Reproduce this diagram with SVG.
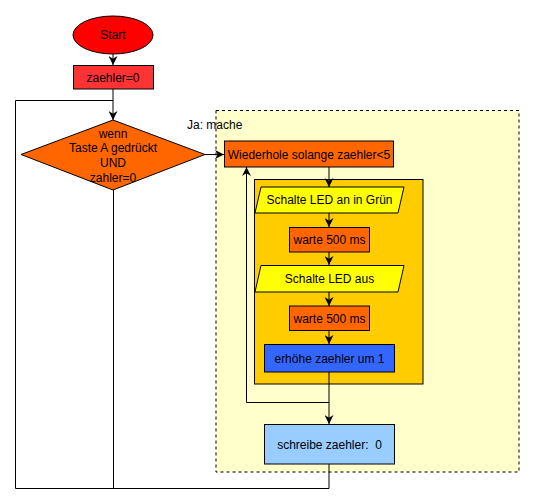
<svg xmlns="http://www.w3.org/2000/svg" width="535" height="504" viewBox="0 0 535 504">
<style>
  .s { stroke: #000; stroke-width: 1; }
  .t { font-family: "Liberation Sans", Arial, sans-serif; font-size: 12px; fill: #000; text-anchor: middle; }
  .c { fill: none; stroke: #000; stroke-width: 1; }
</style>
<defs>
  <marker id="arr" markerUnits="userSpaceOnUse" viewBox="0 0 10 10" refX="10" refY="5" markerWidth="10" markerHeight="9" orient="auto">
    <path d="M0,0 L10,5 L0,10 L3,5 Z" fill="#000"/>
  </marker>
</defs>
<rect width="535" height="504" fill="#fff"/>
<g id="container-ja">
  <rect x="216" y="110.5" width="303" height="361.5" fill="#FFFFCC" stroke="#000" stroke-dasharray="3,3"/>
  <text class="t" x="187" y="129" style="text-anchor:start">Ja: mache</text>
</g>
<g id="container-loop">
  <rect x="254.5" y="179.5" width="168.5" height="204.5" fill="#FFCC00" class="s"/>
</g>
<g id="connectors">
  <path class="c" d="M113,54 V65" marker-end="url(#arr)"/>
  <path class="c" d="M113,89 V120" marker-end="url(#arr)"/>
  <path class="c" d="M329,464 V488.5 H15.5 V100.5 H113"/>
  <path class="c" d="M113.5,190 V488.5"/>
  <path class="c" d="M205,154.5 H224" marker-end="url(#arr)"/>
  <path class="c" d="M329,167 V187" marker-end="url(#arr)"/>
  <path class="c" d="M329,213 V227" marker-end="url(#arr)"/>
  <path class="c" d="M329,252 V265" marker-end="url(#arr)"/>
  <path class="c" d="M329,292 V306" marker-end="url(#arr)"/>
  <path class="c" d="M329,330 V344" marker-end="url(#arr)"/>
  <path class="c" d="M329,372 V424" marker-end="url(#arr)"/>
  <path class="c" d="M329,402.5 H246.5 V167" marker-end="url(#arr)"/>
</g>
<g id="start">
  <ellipse cx="113" cy="35" rx="40" ry="19" fill="#FF0000" class="s"/>
  <text class="t" x="113" y="39">Start</text>
</g>
<g id="init">
  <rect x="73.5" y="65.5" width="80" height="23.5" fill="#FF3333" class="s"/>
  <text class="t" x="113" y="81.5">zaehler=0</text>
</g>
<g id="decision">
  <polygon points="113,120 205,154.5 113,190 21,154.5" fill="#FF6600" class="s"/>
  <text class="t" x="113" y="138">wenn</text>
  <text class="t" x="113" y="152">Taste A gedrückt</text>
  <text class="t" x="113" y="167">UND</text>
  <text class="t" x="113" y="182">zahler=0</text>
</g>
<g id="while">
  <rect x="224.5" y="141" width="169" height="26" fill="#FF6600" class="s"/>
  <text class="t" x="309" y="158.5">Wiederhole solange zaehler&lt;5</text>
</g>
<g id="led-green">
  <polygon points="261,187 404,187 398,213 255,213" fill="#FFFF00" class="s"/>
  <text class="t" x="329.5" y="204">Schalte LED an in Grün</text>
</g>
<g id="wait1">
  <rect x="289.5" y="227.5" width="80" height="24.5" fill="#FF6600" class="s"/>
  <text class="t" x="329.5" y="244">warte 500 ms</text>
</g>
<g id="led-off">
  <polygon points="261,265.5 404,265.5 398,292 255,292" fill="#FFFF00" class="s"/>
  <text class="t" x="329.5" y="283">Schalte LED aus</text>
</g>
<g id="wait2">
  <rect x="289.5" y="306" width="80" height="24.5" fill="#FF6600" class="s"/>
  <text class="t" x="329.5" y="322.5">warte 500 ms</text>
</g>
<g id="increment">
  <rect x="264.5" y="344.5" width="130" height="27.5" fill="#3366FF" class="s"/>
  <text class="t" x="329.5" y="362.5">erhöhe zaehler um 1</text>
</g>
<g id="print">
  <rect x="264.5" y="424.5" width="130" height="39.5" fill="#99CCFF" class="s"/>
  <text class="t" x="329.5" y="448.5" xml:space="preserve">schreibe zaehler:  0</text>
</g>
</svg>
